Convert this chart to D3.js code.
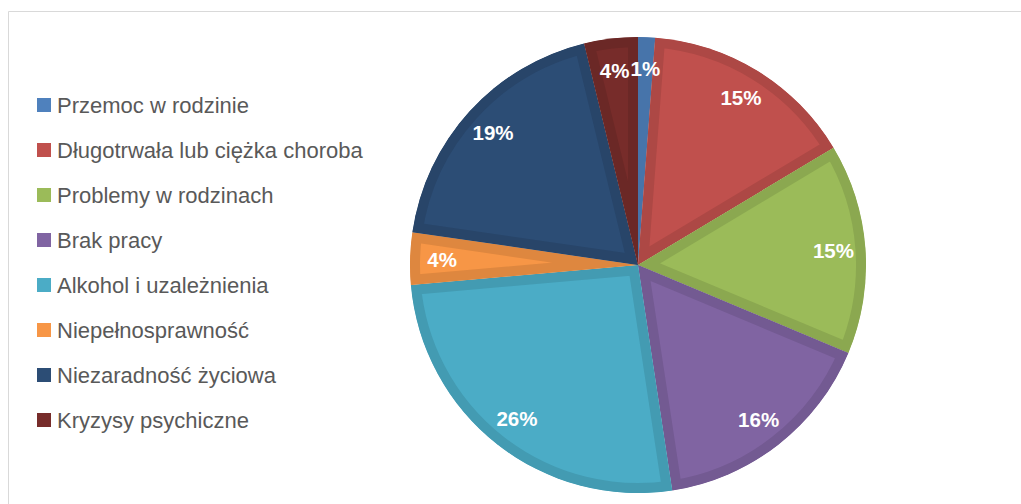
<!DOCTYPE html>
<html><head><meta charset="utf-8">
<script src="https://cdn.jsdelivr.net/npm/d3@7/dist/d3.min.js"></script>
<style>html,body{margin:0;padding:0;background:#fff;}svg{display:block;}</style>
</head><body>
<svg id="chart" width="1021" height="504"></svg>
<script>
const categories = ["Przemoc w rodzinie","Długotrwała lub ciężka choroba","Problemy w rodzinach","Brak pracy","Alkohol i uzależnienia","Niepełnosprawność","Niezaradność życiowa","Kryzysy psychiczne"];
const values = [1.2, 15.2, 14.9, 16.3, 26.0, 3.7, 18.9, 3.8];
const colors = ["#4f81bd","#c0504d","#9bbb59","#8064a2","#4bacc6","#f79646","#2c4d75","#772c2a"];

const svg = d3.select("#chart");
svg.append("path").attr("d","M8.5,504 V11.5 H1021").attr("fill","none").attr("stroke","#d9d9d9").attr("stroke-width",1);

const cx = 638, cy = 265, R = 228;
const total = d3.sum(values);
const pie = d3.pie().sort(null).value(d => d)(values);
const arc = d3.arc().innerRadius(0).outerRadius(R);
const labelArc = d3.arc().innerRadius(196).outerRadius(196);

const g = svg.append("g").attr("transform",`translate(${cx},${cy})`);
const defs = svg.append("defs");
pie.forEach((p,i)=>{
  defs.append("clipPath").attr("id","clip"+i).append("path").attr("d",arc(p));
});
g.selectAll("path.slice").data(pie).join("path")
  .attr("class","slice")
  .attr("d",arc)
  .attr("fill",(d,i)=>colors[i])
  .attr("stroke",(d,i)=>d3.color(colors[i]).darker(0.3))
  .attr("stroke-width",20)
  .attr("stroke-linejoin","miter")
  .attr("clip-path",(d,i)=>`url(#clip${i})`);

const fmt = v => Math.round(v/total*100) + "%";
g.selectAll("text.lbl").data(pie).join("text")
  .attr("class","lbl")
  .attr("transform",d=>`translate(${labelArc.centroid(d)})`)
  .attr("text-anchor","middle")
  .attr("dy","0.35em")
  .attr("fill","#fff")
  .attr("font-family","Liberation Sans, Arial, sans-serif")
  .attr("font-weight","bold")
  .attr("font-size",20.5)
  .text(d=>fmt(d.data));

const ly = d3.scalePoint().domain(categories).range([105,420]);
const leg = svg.append("g");
categories.forEach((c,i)=>{
  leg.append("rect").attr("x",37).attr("y",ly(c)-7).attr("width",14).attr("height",14).attr("fill",colors[i]);
  leg.append("text").attr("x",57).attr("y",ly(c)).attr("dy","0.36em")
    .attr("fill","#595959").attr("font-family","Liberation Sans, Arial, sans-serif").attr("font-size",22)
    .text(c);
});
</script>
</body></html>
